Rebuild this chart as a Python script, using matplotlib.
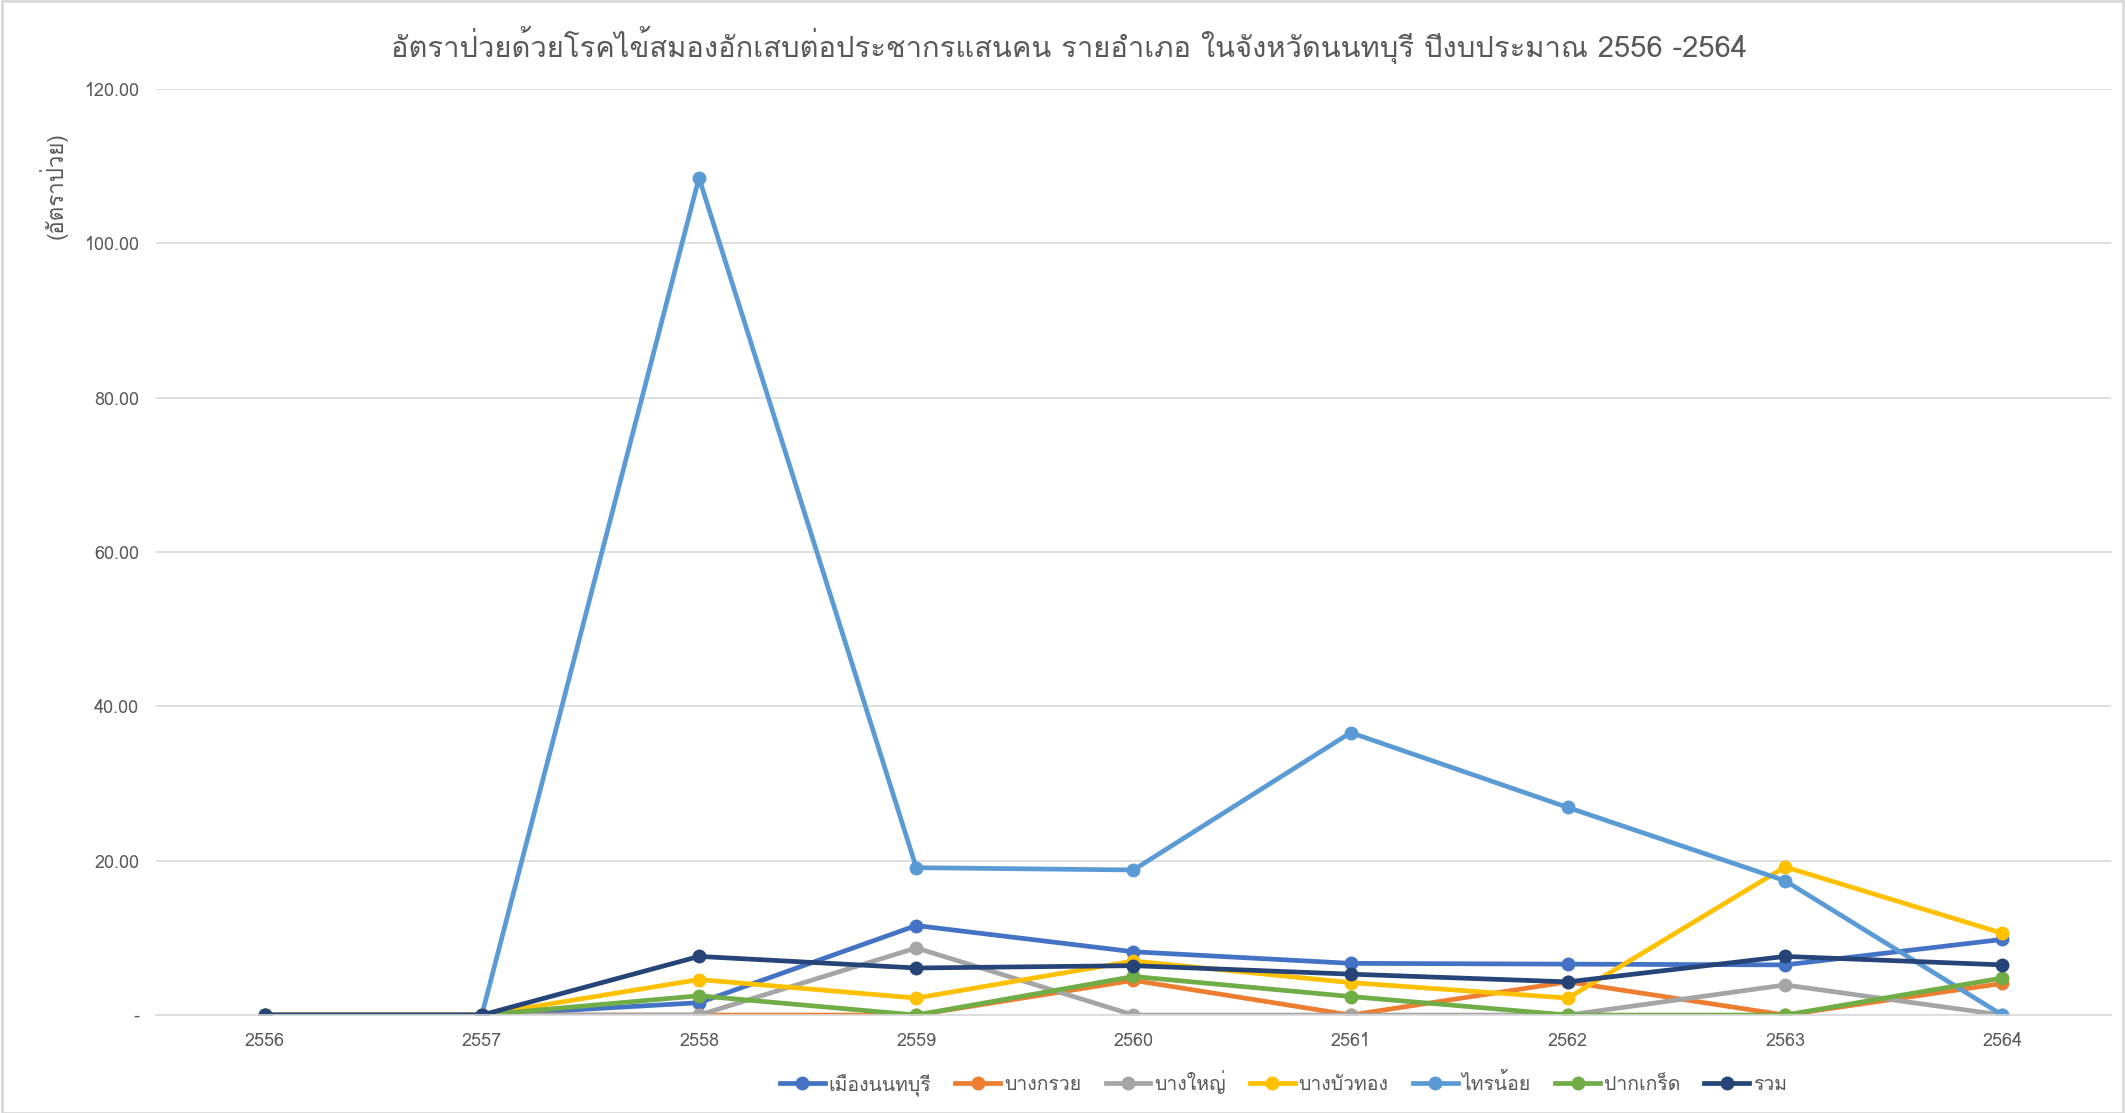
import matplotlib
matplotlib.use("Agg")
import matplotlib.pyplot as plt
from matplotlib import font_manager
from matplotlib.ft2font import FT2Font

# rates per 100,000 population, fiscal years 2556-2564
years = ["2556", "2557", "2558", "2559", "2560", "2561", "2562", "2563", "2564"]
mueang = [0, 0, 1.6, 11.6, 8.2, 6.7, 6.6, 6.5, 9.8]
bang_kruai = [0, 0, 0, 0, 4.5, 0, 4.3, 0, 4.1]
bang_yai = [0, 0, 0, 8.7, 0, 0, 0, 3.9, 0]
bang_bua_thong = [0, 0, 4.6, 2.2, 7.0, 4.2, 2.2, 19.2, 10.6]
sai_noi = [0, 0, 108.5, 19.1, 18.8, 36.6, 26.9, 17.4, 0]
pak_kret = [0, 0, 2.5, 0, 5.0, 2.4, 0, 0, 4.8]
total = [0, 0, 7.6, 6.1, 6.4, 5.3, 4.3, 7.6, 6.5]

series = [
    ("เมืองนนทบุรี", mueang, "#4472C4"),
    ("บางกรวย", bang_kruai, "#ED7D31"),
    ("บางใหญ่", bang_yai, "#A5A5A5"),
    ("บางบัวทอง", bang_bua_thong, "#FFC000"),
    ("ไทรน้อย", sai_noi, "#5B9BD5"),
    ("ปากเกร็ด", pak_kret, "#70AD47"),
    ("รวม", total, "#264478"),
]


def thai_fonts():
    names = []
    for f in font_manager.fontManager.ttflist:
        try:
            if FT2Font(f.fname).get_char_index(0x0E01) and f.name not in names:
                names.append(f.name)
        except Exception:
            pass
    return names


thai = thai_fonts()
plt.rcParams["font.family"] = thai + ["DejaVu Sans"]

fig = plt.figure(figsize=(21.25, 11.13), dpi=100)
ax = fig.add_axes([0.0734, 0.088, 0.92, 0.832])

x = range(len(years))
for name, vals, color in series:
    ax.plot(x, vals, color=color, lw=3.4, marker="o", ms=9, label=name)

ax.set_xlim(-0.5, len(years) - 0.5)
ax.set_ylim(0, 120)
ax.set_yticks(range(0, 121, 20))
ax.set_yticklabels(["-"] + [f"{v:.2f}" for v in range(20, 121, 20)])
ax.set_xticks(list(x))
ax.set_xticklabels(years)
ax.tick_params(axis="both", length=0, labelsize=13, colors="#595959", pad=12)
ax.grid(axis="y", color="#D9D9D9", lw=1.2)
ax.set_axisbelow(True)
for side in ["top", "right", "left"]:
    ax.spines[side].set_visible(False)
ax.spines["bottom"].set_color("#D9D9D9")
ax.spines["bottom"].set_linewidth(1.2)

fig.text(0.503, 0.96, "อัตราป่วยด้วยโรคไข้สมองอักเสบต่อประชากรแสนคน รายอำเภอ ในจังหวัดนนทบุรี ปีงบประมาณ 2556 -2564",
         ha="center", va="center", fontsize=21, color="#595959")
fig.text(0.025, 0.833, "(อัตราป่วย)", rotation=90, ha="center", va="center",
         fontsize=16, color="#595959")

fig.legend(loc="center", bbox_to_anchor=(0.604, 0.027), ncol=7, frameon=False,
           fontsize=14, handlelength=2.3, columnspacing=1.25, handletextpad=0.2,
           labelcolor="#595959")

# chart area border
fig.add_artist(plt.Rectangle((0.001, 0.0), 0.998, 0.999, transform=fig.transFigure,
                             fill=False, ec="#D9D9D9", lw=2))

fig.savefig("out.png", dpi=100, facecolor="white")
